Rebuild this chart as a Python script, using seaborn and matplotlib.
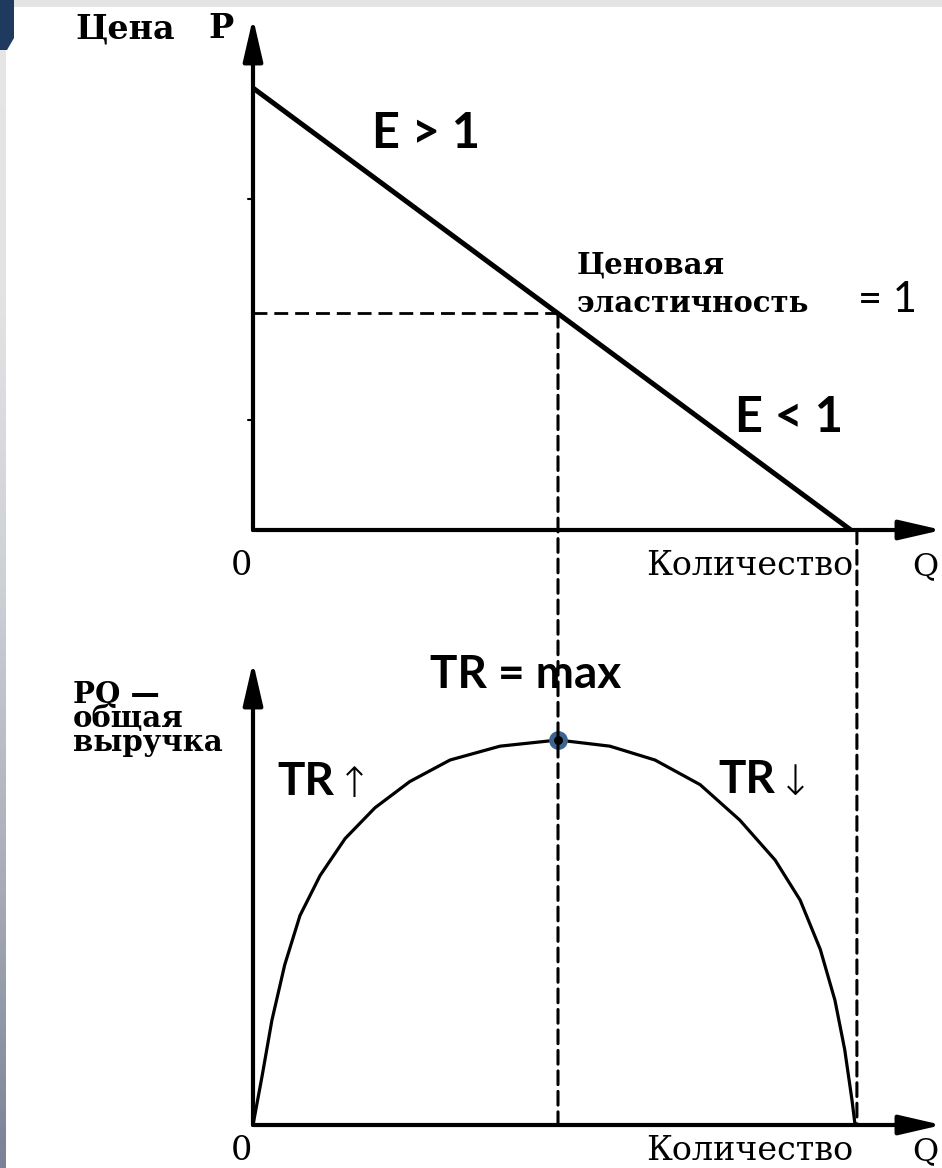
import numpy as np
import pandas as pd
import matplotlib
matplotlib.use("Agg")
import matplotlib.pyplot as plt
import seaborn as sns
from matplotlib.patches import ConnectionPatch, Rectangle, Polygon
from matplotlib.colors import LinearSegmentedColormap

# ---------------- data ----------------
demand_q = [0.0, 9.8]
demand_p = [10.0, 0.0]
unit_q = 5.0          # unit-elastic point
unit_p = 4.9
end_q = 9.9           # quantity where P = 0 / TR = 0

tr_q = [0.0, 0.15, 0.31, 0.52, 0.77, 1.10, 1.51, 2.00, 2.57, 3.23, 4.05, 5.00,
        5.85, 6.59, 7.33, 7.98, 8.56, 8.97, 9.30, 9.54, 9.70, 9.82, 9.87]
tr_v = [0.0, 3.2, 6.8, 10.4, 13.6, 16.2, 18.6, 20.6, 22.3, 23.7, 24.6, 25.0,
        24.6, 23.7, 22.1, 19.8, 17.2, 14.6, 11.4, 8.1, 4.9, 1.6, 0.0]
tr_max_q = 5.0
tr_max_v = 25.0

top_labels = {"price": "Цена", "p": "P", "e_gt": "E > 1", "e_lt": "E < 1",
              "el1": "Ценовая", "el2": "эластичность", "eq1": "= 1",
              "zero": "0", "qty": "Количество", "q": "Q"}
bot_labels = {"tr_max": "TR = max", "pq": "PQ —\nобщая\nвыручка",
              "tr": "TR", "up": "↑", "down": "↓"}

# ---------------- figure ----------------
sns.set_style("white")
plt.rcParams['font.family'] = ['DejaVu Sans']
plt.rcParams['text.color'] = 'black'
W, H = 942, 1168
fig = plt.figure(figsize=(W / 100, H / 100), dpi=100)
fig.patch.set_facecolor("white")

# slide decoration: top band, left gradient strip, corner shape
fig.patches.append(Rectangle((0, 1 - 7 / H), 1, 7 / H, transform=fig.transFigure,
                             facecolor="#e4e4e4", edgecolor="none", zorder=0))
gax = fig.add_axes([0, 0, 6 / W, 1 - 7 / H])
grad = np.linspace(0, 1, 256).reshape(-1, 1)
cmap = LinearSegmentedColormap.from_list("g", ["#7b8196", "#a9adb8", "#cdd0d5", "#e3e3e5", "#e6e6e6"])
gax.imshow(grad, aspect="auto", cmap=cmap, origin="lower", extent=[0, 1, 0, 1])
gax.axis("off")
fig.patches.append(Polygon([(0, 1), (14 / W, 1), (14 / W, 1 - 38 / H), (7 / W, 1 - 50 / H), (0, 1 - 50 / H)],
                           closed=True, transform=fig.transFigure, facecolor="#1e3a5f",
                           edgecolor="none", zorder=1))

PXQ = 61.0     # pixels per unit of Q
PXP = 44.2     # pixels per unit of P
PXT = 15.4     # pixels per unit of TR
x0 = 253
ax1 = fig.add_axes([x0 / W, (H - 530) / H, (W - x0) / W, (530 - 18) / H])
ax2 = fig.add_axes([x0 / W, (H - 1125) / H, (W - x0) / W, (1125 - 662) / H])
ax1.set_xlim(0, (W - x0) / PXQ)
ax1.set_ylim(0, (530 - 18) / PXP)
ax2.set_xlim(0, (W - x0) / PXQ)
ax2.set_ylim(0, (1125 - 662) / PXT)

for ax in (ax1, ax2):
    ax.set_facecolor("none")
    for s in ax.spines.values():
        s.set_visible(False)
    ax.set_xticks([])
    ax.set_yticks([])
    ax.patch.set_alpha(0)
    # axis arrows
    ax.annotate("", xy=(0, 1), xytext=(0, 0), xycoords="axes fraction",
                arrowprops=dict(arrowstyle="-|>,head_length=1.3,head_width=0.3",
                                lw=3.0, color="black", mutation_scale=20,
                                shrinkA=0, shrinkB=0))
    ax.annotate("", xy=(1, 0), xytext=(0, 0), xycoords="axes fraction",
                arrowprops=dict(arrowstyle="-|>,head_length=1.3,head_width=0.3",
                                lw=3.0, color="black", mutation_scale=20,
                                shrinkA=0, shrinkB=0))

# small ticks on price axis
for pv in (2.5, 7.5):
    ax1.plot([-0.08, 0], [pv, pv], color="black", lw=1.5, clip_on=False)

# demand line
sns.lineplot(x=demand_q, y=demand_p, ax=ax1, color="black", lw=3.6,
             solid_capstyle="butt", clip_on=False)
# horizontal dashed
ax1.plot([0, unit_q], [unit_p, unit_p], color="black", lw=2.0, dashes=(5, 2.5))

# total revenue
df_tr = pd.DataFrame({"Q": tr_q, "TR": tr_v})
sns.lineplot(data=df_tr, x="Q", y="TR", ax=ax2, color="black", lw=2.3,
             sort=False, clip_on=False)
ax2.plot([tr_max_q], [tr_max_v], marker="o", ms=10, mfc="black", mec="#3d6491",
         mew=3.5, zorder=6)

# vertical dashed lines crossing both panels
for (qa, pa) in [(unit_q, unit_p), (end_q, 0)]:
    cp = ConnectionPatch(xyA=(qa, pa), coordsA=ax1.transData,
                         xyB=(qa, 0), coordsB=ax2.transData,
                         color="black", lw=2.2, linestyle=(0, (4.5, 2.2)), zorder=5)
    fig.add_artist(cp)

# ---------------- texts ----------------
serif_b = dict(family="DejaVu Serif", fontweight="bold", color="black")
serif_r = dict(family="DejaVu Serif", color="black")
sans_b = dict(family=["Lato", "DejaVu Sans"], fontweight="bold", color="black")


def t1(x, y):
    return ((x - x0) / PXQ, (530 - y) / PXP)


def t2(x, y):
    return ((x - x0) / PXQ, (1125 - y) / PXT)


ax1.text(*t1(75, 38), top_labels["price"], fontsize=24, ha="left", va="baseline", **serif_b)
ax1.text(*t1(208, 38), top_labels["p"], fontsize=24, ha="left", va="baseline", **serif_b)
ax1.text(*t1(372, 148), top_labels["e_gt"], fontsize=35, ha="left", va="baseline", **sans_b)
ax1.text(*t1(735, 432), top_labels["e_lt"], fontsize=35, ha="left", va="baseline", **sans_b)
ax1.text(*t1(577, 273), top_labels["el1"], fontsize=21, ha="left", va="baseline", **serif_b)
ax1.text(*t1(577, 312), top_labels["el2"], fontsize=21, ha="left", va="baseline", **serif_b)
ax1.text(*t1(858, 312), top_labels["eq1"], fontsize=30, ha="left", va="baseline",
         family=["Lato", "DejaVu Sans"], color="black")
ax1.text(*t1(241, 575), top_labels["zero"], fontsize=24, ha="center", va="baseline", **serif_r)
ax1.text(*t1(646, 575), top_labels["qty"], fontsize=24, ha="left", va="baseline", **serif_r)
ax1.text(*t1(938, 575), top_labels["q"], fontsize=23, ha="right", va="baseline", **serif_r)

ax2.text(*t2(430, 688), bot_labels["tr_max"], fontsize=33, ha="left", va="baseline", **sans_b)
ax2.text(*t2(73, 680), bot_labels["pq"], fontsize=21, ha="left", va="top",
         linespacing=0.78, **serif_b)
ax2.text(*t2(277, 795), bot_labels["tr"], fontsize=33, ha="left", va="baseline", **sans_b)
ax2.text(*t2(337, 797), bot_labels["up"], fontsize=30, ha="left", va="baseline",
         family="DejaVu Sans", fontweight="light", color="black")
ax2.text(*t2(718, 793), bot_labels["tr"], fontsize=33, ha="left", va="baseline", **sans_b)
ax2.text(*t2(778, 795), bot_labels["down"], fontsize=30, ha="left", va="baseline",
         family="DejaVu Sans", fontweight="light", color="black")
ax2.text(*t2(241, 1160), top_labels["zero"], fontsize=24, ha="center", va="baseline", **serif_r)
ax2.text(*t2(646, 1160), top_labels["qty"], fontsize=24, ha="left", va="baseline", **serif_r)
ax2.text(*t2(938, 1160), top_labels["q"], fontsize=23, ha="right", va="baseline", **serif_r)

fig.savefig("out.png", dpi=100, facecolor="white")
